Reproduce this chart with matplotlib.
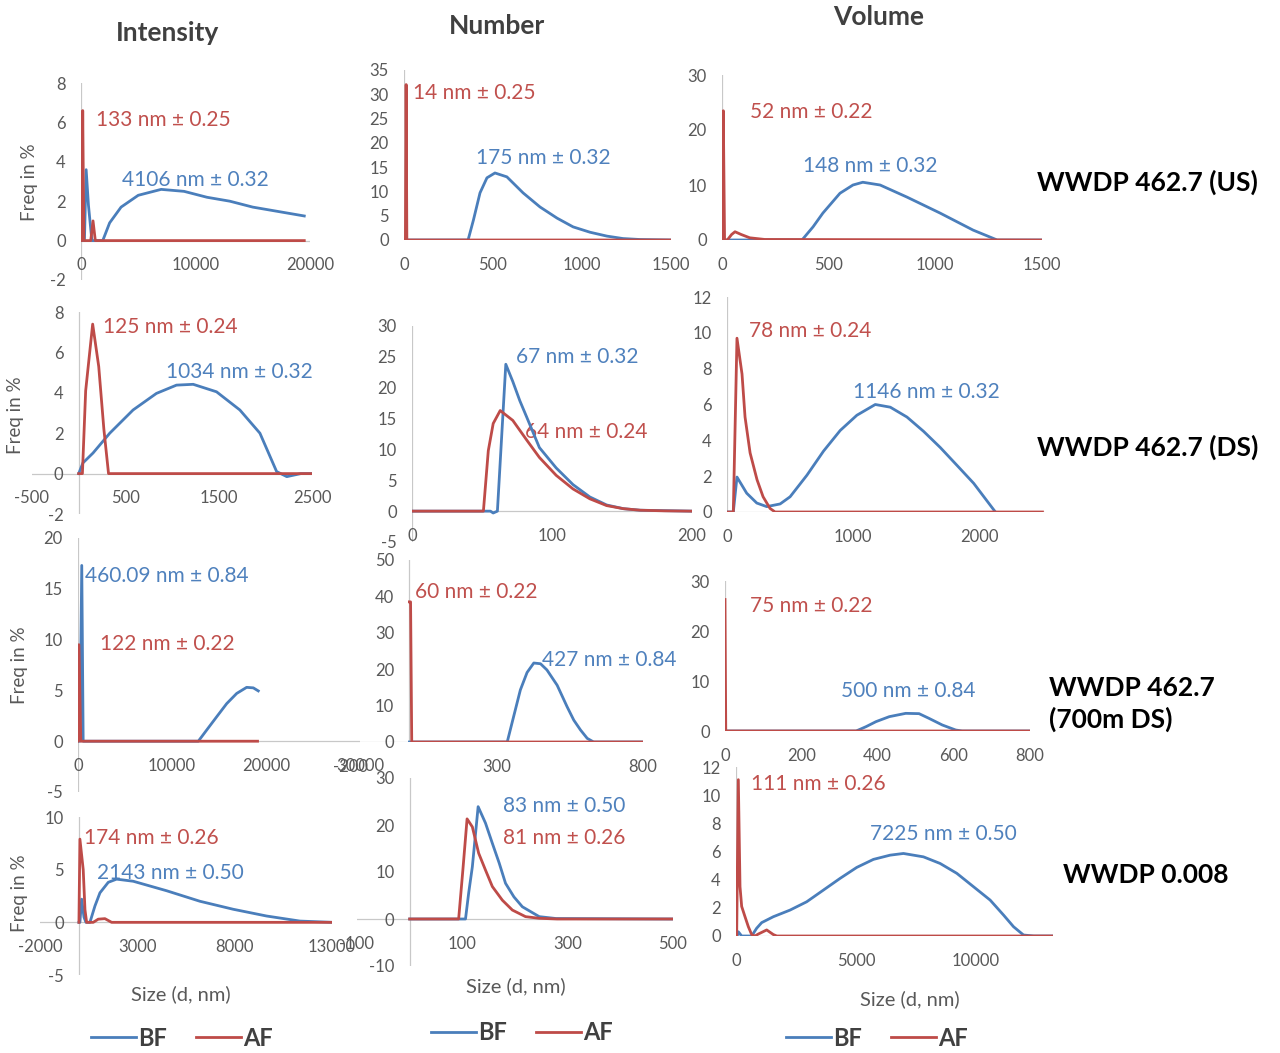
import matplotlib
matplotlib.use("Agg")
import matplotlib.pyplot as plt
from matplotlib.lines import Line2D

plt.rcParams['font.family'] = ['Lato', 'DejaVu Sans']
plt.rcParams['axes.unicode_minus'] = False

W, H = 1280, 1053
BLUE = '#4a7ebb'
RED = '#be4b48'
BLUE_TXT = '#4f81bd'
RED_TXT = '#c0504d'
GREY = '#595959'
AXIS = '#c8c8c8'

col_titles = ['Intensity', 'Number', 'Volume']
row_titles = ['WWDP 462.7 (US)', 'WWDP 462.7 (DS)', 'WWDP 462.7\n(700m DS)', 'WWDP 0.008']
series_names = ['BF', 'AF']

# ---------------- row 1 : WWDP 462.7 (US)
us_int_bf_x = [0, 300, 450, 650, 950, 1900, 2500, 3500, 5000, 7000, 9000, 11000, 13000, 15000, 17000, 19500]
us_int_bf_y = [0, 0, 3.6, 1.8, 0, 0, 0.9, 1.7, 2.3, 2.6, 2.5, 2.2, 2.0, 1.7, 1.5, 1.25]
us_int_af_x = [0, 80, 150, 250, 850, 1050, 1250, 19500]
us_int_af_y = [0, 0, 6.6, 0, 0, 1.0, 0, 0]

us_num_bf_x = [0, 360, 390, 427, 466, 511, 578, 669, 764, 860, 950, 1045, 1140, 1230, 1326, 1500]
us_num_bf_y = [0, 0, 4.1, 9.7, 12.8, 13.8, 13.0, 9.7, 6.8, 4.5, 2.7, 1.6, 0.8, 0.3, 0.1, 0]
us_num_af_x = [0, 8, 12, 16, 1500]
us_num_af_y = [0, 0, 32, 0, 0]

us_vol_bf_x = [0, 375, 427, 473, 553, 614, 660, 741, 867, 1022, 1177, 1290, 1500]
us_vol_bf_y = [0, 0, 2.4, 4.9, 8.5, 10.0, 10.5, 10.0, 7.8, 4.9, 1.8, 0, 0]
us_vol_af_x = [0, 6, 12, 25, 45, 61, 90, 130, 200, 1500]
us_vol_af_y = [0, 23.5, 0, 0, 1.0, 1.5, 1.0, 0.4, 0.1, 0]

# ---------------- row 2 : WWDP 462.7 (DS)
ds_int_bf_x = [0, 46, 154, 333, 583, 833, 1048, 1227, 1477, 1727, 1942, 2121, 2230, 2380, 2500]
ds_int_bf_y = [0, 0.53, 1.02, 2.0, 3.15, 3.97, 4.38, 4.42, 4.05, 3.15, 2.0, 0.1, -0.15, 0, 0]
ds_int_af_x = [0, 40, 75, 150, 215, 270, 320, 2500]
ds_int_af_y = [0, 0, 4.1, 7.4, 5.3, 2.2, 0, 0]

ds_num_bf_x = [0, 56, 58, 61, 67, 72, 77, 82, 91, 103, 115, 127, 139, 151, 163, 200]
ds_num_bf_y = [0, 0, -0.3, 0, 23.8, 21.0, 17.9, 15.2, 10.3, 7.0, 4.3, 2.3, 1.0, 0.4, 0.15, 0]
ds_num_af_x = [0, 51, 54.5, 58, 63, 72, 82, 91, 103, 115, 127, 139, 151, 163, 180, 200]
ds_num_af_y = [0, 0, 9.8, 14.2, 16.3, 14.7, 11.5, 8.7, 5.8, 3.6, 2.0, 0.9, 0.4, 0.15, 0.05, 0]

ds_vol_bf_x = [0, 50, 79, 156, 236, 315, 421, 500, 633, 765, 897, 1029, 1175, 1294, 1426, 1558, 1690, 1823, 1955, 2127]
ds_vol_bf_y = [0, 0, 1.95, 1.05, 0.5, 0.3, 0.45, 0.85, 2.05, 3.4, 4.55, 5.4, 6.0, 5.85, 5.3, 4.5, 3.6, 2.6, 1.6, 0]
ds_vol_af_x = [0, 50, 79, 119, 143, 183, 238, 286, 341, 381, 2500]
ds_vol_af_y = [0, 0, 9.7, 7.7, 5.3, 3.3, 1.8, 0.85, 0.2, 0, 0]

# ---------------- row 3 : WWDP 462.7 (700m DS)
m7_int_bf_x = [0, 200, 400, 550, 12800, 13690, 14750, 15820, 16880, 17940, 18650, 19180]
m7_int_bf_y = [0, 0, 17.3, 0, 0, 1.1, 2.4, 3.7, 4.7, 5.3, 5.25, 4.95]
m7_int_af_x = [0, 100, 300, 19100]
m7_int_af_y = [0, 9.5, 0, 0]

m7_num_bf_x = [0, 335, 357, 380, 403, 426, 449, 471, 506, 540, 563, 586, 609, 631, 800]
m7_num_bf_y = [0, 0, 7.0, 14.3, 19.1, 21.7, 21.5, 19.8, 15.6, 9.7, 6.0, 3.3, 1.0, 0, 0]
m7_num_af_x = [0, 4, 8, 800]
m7_num_af_y = [38.5, 38.5, 0, 0]

m7_vol_bf_x = [0, 344, 370, 396, 431, 474, 509, 535, 570, 605, 622, 800]
m7_vol_bf_y = [0, 0, 0.87, 1.87, 2.87, 3.53, 3.47, 2.53, 1.2, 0.2, 0, 0]
m7_vol_af_x = [0, 2, 800]
m7_vol_af_y = [26.3, 0, 0]

# ---------------- row 4 : WWDP 0.008
p8_int_bf_x = [0, 50, 140, 257, 360, 565, 822, 1079, 1507, 1935, 2790, 3646, 4502, 6215, 7927, 9639, 11351, 13000]
p8_int_bf_y = [0, 0, 2.2, 0.5, 0, 0, 1.55, 2.8, 3.8, 4.1, 3.9, 3.45, 3.0, 2.0, 1.24, 0.6, 0.12, 0]
p8_int_af_x = [0, 50, 220, 310, 395, 735, 990, 1335, 1680, 13000]
p8_int_af_y = [0, 7.9, 5.0, 1.2, 0, 0, 0.3, 0.35, 0, 0]

p8_num_bf_x = [0, 106, 112, 119, 130, 144, 157, 170, 182, 198, 214, 246, 278, 500]
p8_num_bf_y = [0, 0, 5.5, 11.1, 23.9, 20.4, 16.1, 11.9, 7.6, 4.7, 2.6, 0.5, 0.1, 0]
p8_num_af_x = [0, 93, 101, 109, 119, 131, 144, 157, 176, 195, 220, 246, 280, 500]
p8_num_af_y = [0, 0, 10.4, 21.3, 19.6, 14.0, 10.4, 6.9, 4.0, 1.9, 0.5, 0.15, 0, 0]

p8_vol_bf_x = [0, 50, 97, 236, 653, 860, 1069, 1556, 2250, 2944, 3639, 4333, 5028, 5722, 6417, 6972,
               7806, 8500, 9194, 9889, 10583, 11139, 11556, 11972, 12400, 13200]
p8_vol_bf_y = [0, 0, 0.3, 0, 0, 0.55, 0.95, 1.37, 1.84, 2.43, 3.26, 4.09, 4.87, 5.44, 5.74, 5.86,
               5.62, 5.15, 4.45, 3.5, 2.55, 1.49, 0.66, 0.07, 0, 0]
p8_vol_af_x = [0, 28, 97, 167, 236, 375, 514, 653, 790, 930, 1278, 1556, 1700, 13200]
p8_vol_af_y = [0, 0, 11.1, 3.5, 2.1, 1.37, 0.66, 0.1, 0, 0.14, 0.43, 0.1, 0, 0]

# peak labels (AF / BF) per panel, row by row
af_labels = ['133 nm ± 0.25', '14 nm ± 0.25', '52 nm ± 0.22',
             '125 nm ± 0.24', '64 nm ± 0.24', '78 nm ± 0.24',
             '122 nm ± 0.22', '60 nm ± 0.22', '75 nm ± 0.22',
             '174 nm ± 0.26', '81 nm ± 0.26', '111 nm ± 0.26']
bf_labels = ['4106 nm ± 0.32', '175 nm ± 0.32', '148 nm ± 0.32',
             '1034 nm ± 0.32', '67 nm ± 0.32', '1146 nm ± 0.32',
             '460.09 nm ± 0.84', '427 nm ± 0.84', '500 nm ± 0.84',
             '2143 nm ± 0.50', '83 nm ± 0.50', '7225 nm ± 0.50']

# axis settings per panel
xlims = [(0, 20000), (0, 1500), (0, 1500),
         (-500, 2500), (0, 200), (0, 2520),
         (0, 30000), (-200, 800), (0, 800),
         (-2000, 13000), (-100, 500), (0, 13200)]
ylims = [(-2, 8), (0, 35), (0, 30),
         (-2, 8), (-5, 30), (0, 12),
         (-5, 20), (0, 50), (0, 30),
         (-5, 10), (-10, 30), (0, 12)]
xticks = [[0, 10000, 20000], [0, 500, 1000, 1500], [0, 500, 1000, 1500],
          [-500, 500, 1500, 2500], [0, 100, 200], [0, 1000, 2000],
          [0, 10000, 20000, 30000], [-200, 300, 800], [0, 200, 400, 600, 800],
          [-2000, 3000, 8000, 13000], [-100, 100, 300, 500], [0, 5000, 10000]]
ysteps = [2, 5, 10, 2, 5, 2, 5, 10, 10, 5, 10, 2]

curves = [
    (us_int_bf_x, us_int_bf_y, us_int_af_x, us_int_af_y),
    (us_num_bf_x, us_num_bf_y, us_num_af_x, us_num_af_y),
    (us_vol_bf_x, us_vol_bf_y, us_vol_af_x, us_vol_af_y),
    (ds_int_bf_x, ds_int_bf_y, ds_int_af_x, ds_int_af_y),
    (ds_num_bf_x, ds_num_bf_y, ds_num_af_x, ds_num_af_y),
    (ds_vol_bf_x, ds_vol_bf_y, ds_vol_af_x, ds_vol_af_y),
    (m7_int_bf_x, m7_int_bf_y, m7_int_af_x, m7_int_af_y),
    (m7_num_bf_x, m7_num_bf_y, m7_num_af_x, m7_num_af_y),
    (m7_vol_bf_x, m7_vol_bf_y, m7_vol_af_x, m7_vol_af_y),
    (p8_int_bf_x, p8_int_bf_y, p8_int_af_x, p8_int_af_y),
    (p8_num_bf_x, p8_num_bf_y, p8_num_af_x, p8_num_af_y),
    (p8_vol_bf_x, p8_vol_bf_y, p8_vol_af_x, p8_vol_af_y),
]

# layout in pixels: (left, right, top, bottom) of each plot area
boxes = [(81, 310, 83, 280), (404, 671, 70, 240), (722, 1042, 75, 240),
         (32, 312, 312, 514), (412, 692, 326, 542), (727, 1045, 297, 512),
         (78, 360, 538, 792), (351, 643, 560, 742), (725, 1030, 581, 731),
         (40, 332, 817, 975), (357, 673, 778, 966), (736, 1053, 767, 936)]
af_pos = [(96, 120), (413, 93), (750, 112), (103, 327), (525, 432), (749, 331),
          (100, 644), (415, 592), (750, 606), (84, 838), (503, 838), (751, 784)]
bf_pos = [(122, 180), (476, 158), (803, 166), (166, 372), (516, 357), (853, 392),
          (85, 576), (542, 660), (841, 691), (97, 873), (503, 806), (870, 834)]


def fx(px):
    return px / W


def fy(py):
    return 1 - py / H


fig = plt.figure(figsize=(W / 100, H / 100), dpi=100)

for i in range(12):
    l, r, t, b = boxes[i]
    ax = fig.add_axes([fx(l), fy(b), (r - l) / W, (b - t) / H])
    ax.patch.set_alpha(0)
    bx, by, axx, ayy = curves[i]
    ax.plot(bx, by, color=BLUE, lw=2.0, zorder=3, solid_joinstyle='round')
    ax.plot(axx, ayy, color=RED, lw=2.0, zorder=4, solid_joinstyle='round')
    ax.axhline(0, color=AXIS, lw=0.9, zorder=1)
    ax.axvline(0, color=AXIS, lw=0.9, zorder=1)
    ax.set_xlim(*xlims[i])
    ax.set_ylim(*ylims[i])
    ax.set_xticks(xticks[i])
    y0, y1 = ylims[i]
    ax.set_yticks(list(range(y0, y1 + 1, ysteps[i])))
    for s in ax.spines.values():
        s.set_visible(False)
    # excel style: labels sit next to the axes crossing at zero
    ax.spines['bottom'].set_position(('data', 0))
    ax.spines['left'].set_position(('data', 0))
    ax.tick_params(axis='x', length=0, pad=12, labelsize=12, labelcolor=GREY)
    ax.tick_params(axis='y', length=0, pad=11, labelsize=12, labelcolor=GREY)
    ax.text(fx(af_pos[i][0]), fy(af_pos[i][1]), af_labels[i], transform=fig.transFigure,
            color=RED_TXT, fontsize=15, va='center', ha='left', zorder=2)
    ax.text(fx(bf_pos[i][0]), fy(bf_pos[i][1]), bf_labels[i], transform=fig.transFigure,
            color=BLUE_TXT, fontsize=15, va='center', ha='left', zorder=2)

# column titles
for t, (cx, cy) in zip(col_titles, [(167, 33), (497, 26), (879, 17)]):
    fig.text(fx(cx), fy(cy), t, ha='center', va='center', fontsize=19,
             fontweight='bold', color='#404040')

# row titles
for t, (lx, cy) in zip(row_titles, [(1037, 182), (1037, 447), (1049, 704), (1063, 875)]):
    fig.text(fx(lx), fy(cy), t, ha='left', va='center', fontsize=19,
             fontweight='bold', color='black', linespacing=1.3)

# y labels
for cx, cy in [(30, 182), (15, 415), (20, 665), (20, 893)]:
    fig.text(fx(cx), fy(cy), 'Freq in %', rotation=90, ha='center', va='center',
             fontsize=13.5, color=GREY)

# x labels
for cx, cy in [(181, 994), (516, 986), (910, 999)]:
    fig.text(fx(cx), fy(cy), 'Size (d, nm)', ha='center', va='center',
             fontsize=14.5, color=GREY)

# legends
handles = [Line2D([], [], color=BLUE, lw=2), Line2D([], [], color=RED, lw=2)]
for cx, cy in [(182, 1038), (522, 1033), (877, 1038)]:
    fig.legend(handles, series_names, ncol=2, loc='center',
               bbox_to_anchor=(fx(cx), fy(cy)), frameon=False,
               prop={'weight': 'bold', 'size': 17}, labelcolor='#404040',
               handlelength=1.9, handletextpad=0.1, columnspacing=1.2)

fig.savefig('out.png', dpi=100)
